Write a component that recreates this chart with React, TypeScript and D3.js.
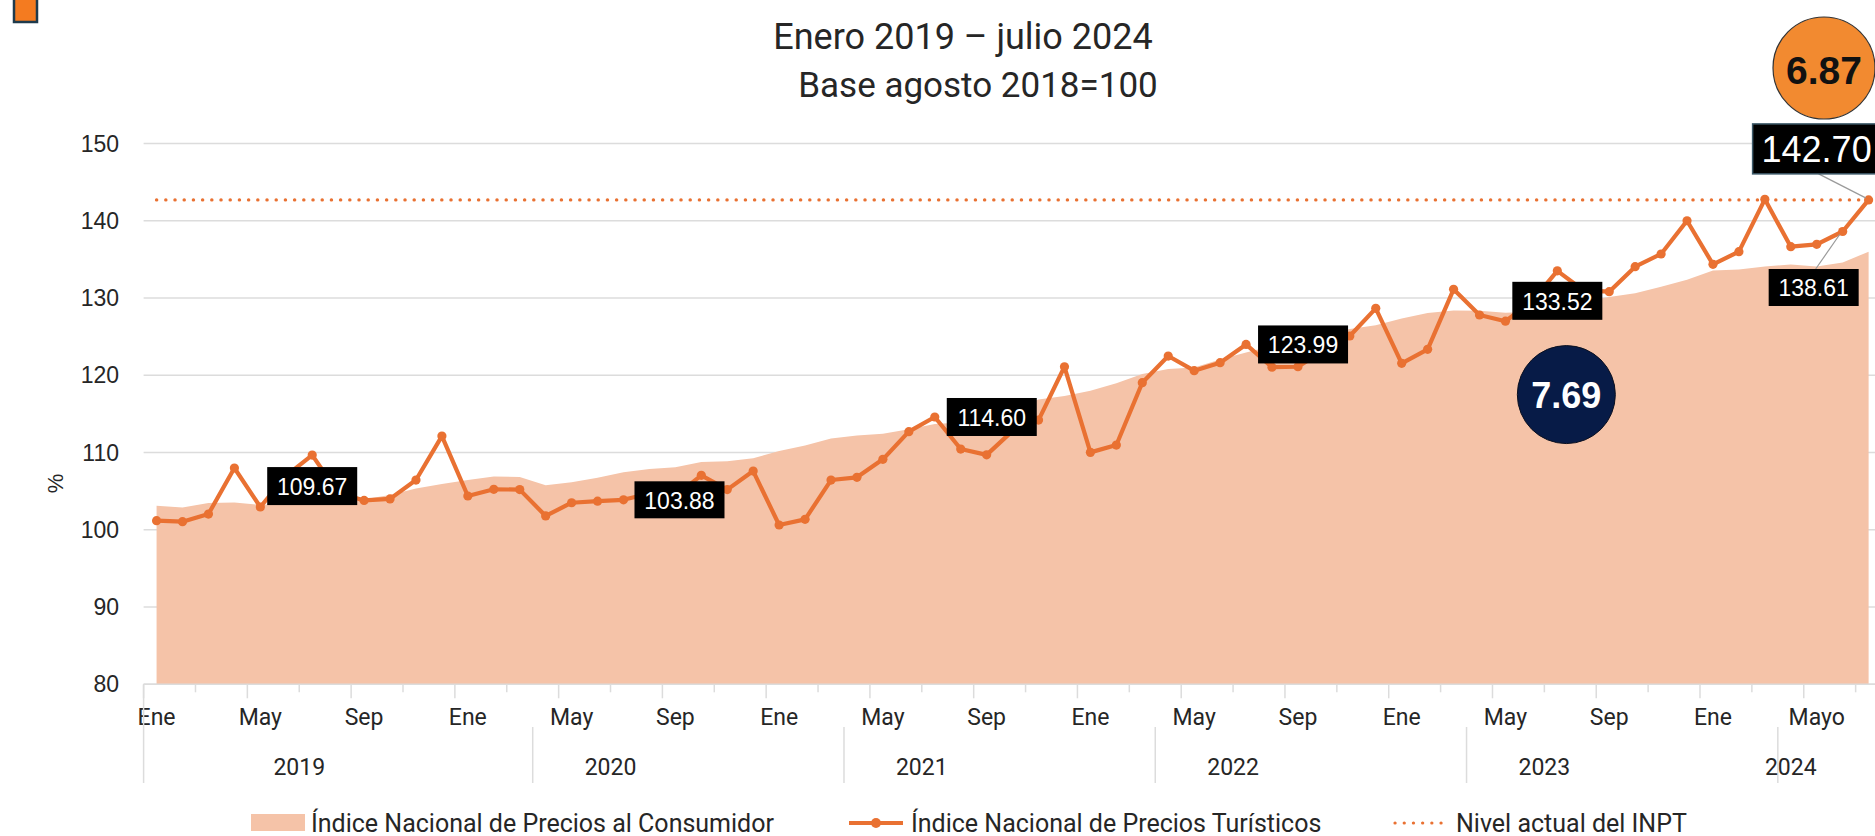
import React from "react";
import * as d3 from "d3";

const W = 1875;
const H = 836;

// Índice Nacional de Precios Turísticos (INPT), ene 2019 – jul 2024
const inpt: number[] = [
  101.18, 101.05, 102.04, 108.0, 102.95, 107.0, 109.67, 104.8, 103.8, 104.0, 106.44, 112.13,
  104.37, 105.24, 105.2, 101.79, 103.5, 103.7, 103.88, 104.7, 104.4, 107.05, 105.2, 107.6,
  100.62, 101.35, 106.44, 106.79, 109.12, 112.7, 114.6, 110.45, 109.7, 112.8, 114.2, 121.1,
  110.02, 110.97, 119.04, 122.49, 120.6, 121.63, 123.99, 121.05, 121.1, 123.2, 125.08, 128.66,
  121.55, 123.36, 131.12, 127.8, 127.0, 129.5, 133.52, 131.0, 130.82, 134.06, 135.7, 140.0,
  134.36, 136.0, 142.77, 136.64, 136.95, 138.61, 142.7,
];

// Índice Nacional de Precios al Consumidor (INPC)
const inpc: number[] = [
  103.11, 102.9, 103.48, 103.53, 103.23, 103.3, 103.69, 103.67, 103.94, 104.5, 105.35, 105.93,
  106.45, 106.89, 106.84, 105.76, 106.16, 106.74, 107.44, 107.87, 108.11, 108.77, 108.86, 109.27,
  110.21, 110.91, 111.82, 112.19, 112.42, 113.02, 113.68, 113.9, 114.6, 115.56, 116.88, 117.31,
  118.0, 118.98, 120.16, 120.81, 121.02, 122.04, 122.95, 123.8, 124.57, 125.28, 126.0, 126.48,
  127.34, 128.05, 128.39, 128.36, 128.08, 128.21, 128.83, 129.55, 130.12, 130.61, 131.45, 132.37,
  133.56, 133.68, 134.07, 134.34, 134.09, 134.59, 136.0,
];

const years: string[] = ["2019", "2020", "2021", "2022", "2023", "2024"];
const monthTickLabels: string[] = [
  "Ene", "May", "Sep", "Ene", "May", "Sep", "Ene", "May", "Sep",
  "Ene", "May", "Sep", "Ene", "May", "Sep", "Ene", "Mayo",
];
const yearSeparatorMonths: number[] = [0, 15, 27, 39, 51, 63];
const yTicks: number[] = [80, 90, 100, 110, 120, 130, 140, 150];
const currentLevel = 142.7;

const calloutMonths: number[] = [6, 18, 30, 42, 54, 65, 66];
const calloutTexts: string[] = ["109.67", "103.88", "114.60", "123.99", "133.52", "138.61", "142.70"];
const annualTexts: string[] = ["7.69", "6.87"];

const legendLabels: string[] = [
  "Índice Nacional de Precios al Consumidor",
  "Índice Nacional de Precios Turísticos",
  "Nivel actual del INPT",
];

const ORANGE = "#E97132";
const PEACH = "#F5C3A8";
const GRID = "#DCDCDC";
const TXT = "#262626";
const SANS = "Roboto, 'Liberation Sans', sans-serif";
const ARIAL = "'Liberation Sans', Arial, sans-serif";

export default function App() {
  const n = inpt.length;
  const x = d3
    .scaleBand<number>()
    .domain(d3.range(n))
    .range([143.6, 143.6 + n * 25.94])
    .paddingInner(0)
    .paddingOuter(0);
  const bw = x.bandwidth();
  const xc = (i: number) => (x(i) as number) + bw / 2;
  const xl = (i: number) => x(i) as number;
  const y = d3.scaleLinear().domain([80, 150]).range([684.3, 143.5]);

  const areaGen = d3
    .area<number>()
    .x((_, i) => xc(i))
    .y0(y(80))
    .y1((d) => y(d));
  const lineGen = d3
    .line<number>()
    .x((_, i) => xc(i))
    .y((d) => y(d));

  const calloutStyle = [
    { dx: 0, dy: 31, w: 90, h: 38, fs: 23 },
    { dx: 56, dy: 0, w: 90, h: 37, fs: 23 },
    { dx: 57, dy: 0, w: 90, h: 38, fs: 23 },
    { dx: 57, dy: 0, w: 90, h: 38, fs: 23 },
    { dx: 0, dy: 30, w: 90, h: 38, fs: 23 },
    { dx: -29, dy: 56, w: 90, h: 37, fs: 23 },
    { dx: -52, dy: -51, w: 128, h: 50, fs: 36 },
  ];

  const axisY = y(80);

  return (
    <svg
      width={W}
      height={H}
      viewBox={`0 0 ${W} ${H}`}
      style={{ position: "absolute", left: 0, top: 0, background: "#fff" }}
    >
      <rect x={0} y={0} width={W} height={H} fill="#fff" />
      {/* corner square */}
      <rect x={14} y={-4} width={23} height={26} fill="#F47B20" stroke="#1E3A4C" strokeWidth={2.5} />

      {/* title */}
      <text x={963} y={49} textAnchor="middle" fontFamily={SANS} fontSize={36} fill={TXT}>
        Enero 2019 – julio 2024
      </text>
      <text x={978} y={97} textAnchor="middle" fontFamily={SANS} fontSize={35} fill={TXT}>
        Base agosto 2018=100
      </text>

      {/* gridlines */}
      {yTicks.map((t) => (
        <line key={"g" + t} x1={143.6} x2={W} y1={y(t)} y2={y(t)} stroke={GRID} strokeWidth={1.6} />
      ))}
      {/* y tick labels */}
      {yTicks.map((t) => (
        <text
          key={"yt" + t}
          x={119}
          y={y(t)}
          textAnchor="end"
          dominantBaseline="central"
          fontFamily={ARIAL}
          fontSize={23}
          fill={TXT}
        >
          {t}
        </text>
      ))}
      <text
        transform={`translate(55, ${y(106)}) rotate(-90)`}
        textAnchor="middle"
        dominantBaseline="central"
        fontFamily={ARIAL}
        fontSize={22}
        fill={TXT}
      >
        %
      </text>

      {/* INPC area */}
      <path d={areaGen(inpc) || ""} fill={PEACH} />

      {/* x axis line */}
      <line x1={143.6} x2={W} y1={axisY} y2={axisY} stroke={GRID} strokeWidth={1.6} />
      {/* ticks */}
      {d3.range(0, n + 1, 2).map((i) => {
        const xx = i < n ? xl(i) : xl(n - 1) + bw;
        const major = i % 4 === 0;
        return (
          <line
            key={"tk" + i}
            x1={xx}
            x2={xx}
            y1={axisY}
            y2={axisY + (major ? 14 : 8)}
            stroke={GRID}
            strokeWidth={1.5}
          />
        );
      })}
      {/* month labels */}
      {monthTickLabels.map((lab, k) => (
        <text
          key={"ml" + k}
          x={xc(k * 4)}
          y={717}
          textAnchor="middle"
          dominantBaseline="central"
          fontFamily={SANS}
          fontSize={23}
          fill={TXT}
        >
          {lab}
        </text>
      ))}
      {/* year separators */}
      {yearSeparatorMonths.map((m, k) => (
        <line
          key={"ys" + k}
          x1={xl(m)}
          x2={xl(m)}
          y1={k === 0 ? axisY : 727}
          y2={783}
          stroke={GRID}
          strokeWidth={1.5}
        />
      ))}
      {/* year labels */}
      {years.map((yr, k) => {
        const first = k * 12;
        const last = Math.min(n - 1, first + 11);
        return (
          <text
            key={"yl" + yr}
            x={(xc(first) + xc(last)) / 2}
            y={767}
            textAnchor="middle"
            dominantBaseline="central"
            fontFamily={SANS}
            fontSize={23}
            fill={TXT}
          >
            {yr}
          </text>
        );
      })}

      {/* current level dotted line */}
      <line
        x1={xc(0)}
        x2={W}
        y1={y(currentLevel)}
        y2={y(currentLevel)}
        stroke={ORANGE}
        strokeWidth={3.4}
        strokeDasharray="0.1 9.1"
        strokeLinecap="round"
      />

      {/* INPT line */}
      <path d={lineGen(inpt) || ""} fill="none" stroke={ORANGE} strokeWidth={4.2} strokeLinejoin="round" />
      {inpt.map((v, i) => (
        <circle key={"pt" + i} cx={xc(i)} cy={y(v)} r={4.6} fill={ORANGE} />
      ))}

      {/* leader lines */}
      {[5, 6].map((k) => {
        const i = calloutMonths[k];
        const s = calloutStyle[k];
        const bx = xc(i) + s.dx;
        const by = y(inpt[i]) + s.dy;
        const edgeY = s.dy > 0 ? by - s.h / 2 : by + s.h / 2;
        return (
          <line
            key={"ld" + k}
            x1={bx + 2}
            y1={edgeY}
            x2={xc(i) - 3}
            y2={y(inpt[i]) + (s.dy > 0 ? 3 : -2)}
            stroke="#9A9A9A"
            strokeWidth={1.2}
          />
        );
      })}

      {/* callouts */}
      {calloutMonths.map((i, k) => {
        const s = calloutStyle[k];
        const cx = xc(i) + s.dx;
        const cy = y(inpt[i]) + s.dy;
        return (
          <g key={"co" + k}>
            <rect
              x={cx - s.w / 2}
              y={cy - s.h / 2}
              width={s.w}
              height={s.h}
              fill="#000"
              stroke={k === 6 ? "#3E5B6B" : "none"}
              strokeWidth={1.5}
            />
            <text
              x={cx}
              y={cy + 1}
              textAnchor="middle"
              dominantBaseline="central"
              fontFamily={ARIAL}
              fontSize={s.fs}
              fill="#fff"
            >
              {calloutTexts[k]}
            </text>
          </g>
        );
      })}

      {/* annual change bubbles */}
      <g>
        <circle cx={xc(54) + 9} cy={y(117.5)} r={49} fill="#071B47" stroke="#0B1020" strokeWidth={1} />
        <text
          x={xc(54) + 9}
          y={y(117.5) + 1}
          textAnchor="middle"
          dominantBaseline="central"
          fontFamily={ARIAL}
          fontWeight="bold"
          fontSize={36}
          fill="#fff"
        >
          {annualTexts[0]}
        </text>
      </g>
      <g>
        <circle cx={1824} cy={68} r={51} fill="#F28A30" stroke="#333" strokeWidth={1.2} />
        <text
          x={1824}
          y={70}
          textAnchor="middle"
          dominantBaseline="central"
          fontFamily={ARIAL}
          fontWeight="bold"
          fontSize={39}
          fill="#111"
        >
          {annualTexts[1]}
        </text>
      </g>

      {/* legend */}
      <rect x={251} y={814} width={54} height={17} fill={PEACH} />
      <text x={311} y={823} dominantBaseline="central" fontFamily={SANS} fontSize={25} fill={TXT}>
        {legendLabels[0]}
      </text>
      <line x1={849} x2={903} y1={823} y2={823} stroke={ORANGE} strokeWidth={4.2} />
      <circle cx={876} cy={823} r={5} fill={ORANGE} />
      <text x={911} y={823} dominantBaseline="central" fontFamily={SANS} fontSize={25} fill={TXT}>
        {legendLabels[1]}
      </text>
      <line
        x1={1395}
        x2={1447}
        y1={823}
        y2={823}
        stroke={ORANGE}
        strokeWidth={3.2}
        strokeDasharray="0.1 9.1"
        strokeLinecap="round"
      />
      <text x={1456} y={823} dominantBaseline="central" fontFamily={SANS} fontSize={25} fill={TXT}>
        {legendLabels[2]}
      </text>
    </svg>
  );
}
